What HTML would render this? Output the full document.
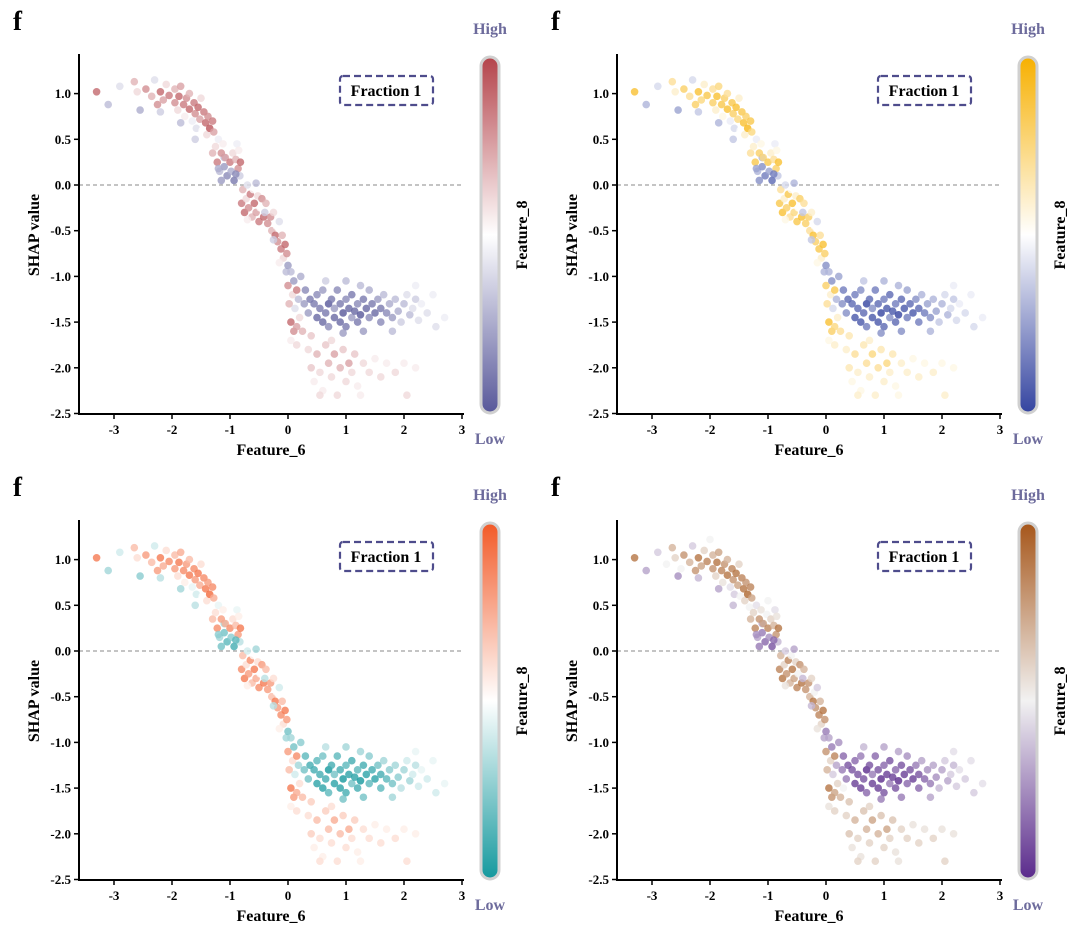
<!DOCTYPE html>
<html><head><meta charset="utf-8">
<style>
html,body{margin:0;padding:0;background:#fff;}
svg{display:block;font-family:"Liberation Serif",serif;font-weight:bold;}
</style></head>
<body>
<svg id="chart" width="1080" height="936" viewBox="0 0 1080 936" xmlns="http://www.w3.org/2000/svg"></svg>
<script>
// ---- data (shared by all four panels) ----
const featX = [-3.3,-3.1,-2.9,-2.75,-2.65,-2.6,-2.5,-2.45,-2.35,-2.3,-2.25,-2.2,-2.15,-2.1,-2.05,-2.0,-1.95,-1.95,-1.9,-1.88,-1.85,-1.8,-1.78,-1.75,-1.7,-1.7,-1.65,-1.62,-1.6,-1.58,-1.55,-1.52,-1.5,-1.48,-1.45,-1.42,-1.4,-1.38,-1.35,-1.32,-1.3,-1.28,-2.2,-1.85,-1.6,-2.55,-1.1,
-1.3,-1.25,-1.22,-1.2,-1.18,-1.15,-1.12,-1.1,-1.08,-1.05,-1.02,-1.0,-0.98,-0.95,-0.93,-0.9,-0.88,-0.86,-0.85,-0.83,-0.82,-1.15,-1.0,-0.9,-1.2,
-0.8,-0.78,-0.75,-0.72,-0.7,-0.68,-0.65,-0.62,-0.6,-0.58,-0.55,-0.52,-0.5,-0.48,-0.45,-0.42,-0.4,-0.38,-0.35,-0.55,-0.7,
-0.3,-0.28,-0.25,-0.22,-0.2,-0.18,-0.15,-0.12,-0.1,-0.08,-0.05,-0.03,-0.02,0.0,-0.15,-0.25,
0.0,0.02,0.05,0.05,0.08,0.1,0.1,0.12,0.15,0.15,0.18,0.2,0.22,0.25,0.28,0.3,0.3,0.35,0.38,0.4,0.05,0.15,
0.45,0.5,0.5,0.55,0.6,0.6,0.65,0.7,0.7,0.75,0.8,0.8,0.85,0.9,0.9,0.95,1.0,1.0,1.05,1.1,1.1,1.15,1.2,1.2,1.25,1.3,1.3,1.35,1.4,1.4,1.45,1.5,1.55,1.6,1.6,1.65,1.7,1.75,1.8,1.85,1.9,1.95,2.0,2.05,2.1,2.15,2.2,2.25,2.3,2.4,2.5,2.55,2.7,1.0,0.65,1.8,0.95,2.2,1.25,
0.35,0.4,0.45,0.5,0.55,0.6,0.65,0.7,0.75,0.8,0.85,0.9,0.95,1.0,1.05,1.1,1.15,1.2,1.3,1.4,1.5,1.6,1.7,1.85,2.0,2.05,2.2,0.55,1.25,0.75];
const shapY = [1.02,0.88,1.08,0.95,1.13,1.02,0.9,1.05,0.97,1.15,0.88,1.02,0.93,1.1,0.98,1.22,0.9,1.05,0.82,0.97,1.08,0.88,0.75,0.95,0.83,1.0,0.7,0.9,0.78,0.62,0.85,0.72,0.95,0.6,0.8,0.68,0.55,0.75,0.62,0.48,0.7,0.58,0.8,0.68,0.5,0.82,0.3,
0.35,0.42,0.25,0.5,0.15,0.35,0.45,0.2,0.3,0.1,0.4,0.25,0.15,0.35,0.05,0.28,0.45,0.18,0.38,0.1,0.25,0.05,0.55,0.12,0.18,
-0.2,-0.05,-0.3,-0.15,0.0,-0.25,-0.1,-0.35,-0.05,-0.2,-0.3,-0.12,-0.4,-0.25,-0.15,-0.35,-0.3,-0.2,-0.42,0.02,-0.38,
-0.35,-0.5,-0.3,-0.55,-0.45,-0.62,-0.4,-0.7,-0.55,-0.8,-0.65,-0.95,-0.75,-0.88,-0.85,-0.6,
-1.1,-1.3,-0.95,-1.5,-1.2,-1.05,-1.6,-1.35,-1.15,-1.55,-1.25,-1.45,-1.0,-1.6,-1.3,-1.15,-1.5,-1.4,-1.25,-1.65,-1.7,-1.75,
-1.3,-1.45,-1.2,-1.35,-1.5,-1.15,-1.4,-1.3,-1.55,-1.25,-1.45,-1.35,-1.15,-1.5,-1.3,-1.4,-1.25,-1.55,-1.35,-1.45,-1.2,-1.38,-1.3,-1.5,-1.42,-1.25,-1.6,-1.35,-1.45,-1.15,-1.3,-1.4,-1.25,-1.5,-1.35,-1.2,-1.4,-1.3,-1.45,-1.25,-1.38,-1.5,-1.3,-1.2,-1.42,-1.35,-1.25,-1.48,-1.3,-1.4,-1.2,-1.55,-1.45,-1.05,-1.05,-1.6,-1.62,-1.1,-1.1,
-1.8,-2.0,-2.15,-1.85,-2.05,-2.25,-1.75,-1.95,-2.1,-1.85,-2.3,-2.0,-1.8,-2.15,-1.95,-2.05,-1.85,-2.2,-1.95,-2.05,-1.9,-2.1,-1.95,-2.05,-1.95,-2.3,-2.0,-2.3,-2.3,-1.7];
const feat8 = [.9,.3,.4,.5,.7,.6,.5,.8,.7,.4,.8,.9,.75,.6,.85,.5,.8,.7,.6,.9,.75,.85,.55,.8,.9,.7,.45,.85,.8,.4,.9,.75,.6,.5,.85,.9,.6,.8,.95,.5,.85,.75,.35,.3,.35,.25,.3,
.7,.6,.85,.45,.3,.8,.55,.2,.75,.15,.5,.85,.25,.6,.1,.7,.45,.8,.55,.35,.9,.2,.5,.15,.25,
.85,.7,.9,.6,.4,.8,.85,.7,.5,.9,.75,.6,.85,.5,.8,.9,.35,.7,.8,.3,.55,
.8,.7,.6,.9,.5,.8,.4,.85,.7,.6,.9,.3,.8,.2,.55,.35,
.8,.7,.3,.9,.6,.2,.8,.4,.85,.75,.3,.6,.25,.7,.2,.15,.5,.2,.1,.65,.55,.6,
.1,.05,.15,.1,.05,.2,.1,0,.15,.1,.05,.2,.15,.05,.1,0,.15,.1,.05,.2,.1,.05,.15,.1,0,.1,.2,.05,.15,.25,.1,.05,.2,.15,.1,.3,.15,.25,.2,.3,.25,.35,.3,.4,.3,.4,.35,.4,.45,.4,.45,.4,.45,.3,.35,.3,.2,.45,.3,
.6,.65,.55,.7,.6,.55,.65,.7,.6,.75,.6,.7,.65,.6,.75,.6,.65,.55,.6,.6,.55,.6,.55,.6,.55,.6,.55,.6,.55,.6];
const xTicks = [-3,-2,-1,0,1,2,3];
const yTicks = [1.0,0.5,0.0,-0.5,-1.0,-1.5,-2.0,-2.5];
const colormaps = [
  ["#58589a","#ffffff","#b4434a"],
  ["#3444a0","#ffffff","#f7b000"],
  ["#15999e","#ffffff","#f25a28"],
  ["#5a2a8c","#f2f2f2","#a6561a"]
];
const offsets = [[0,0],[538,0],[0,466],[538,466]];

const NS="http://www.w3.org/2000/svg";
const svg=document.getElementById('chart');
function mk(tag,attrs,parent,text){const e=document.createElementNS(NS,tag);for(const k in attrs)e.setAttribute(k,attrs[k]);if(text!==undefined)e.textContent=text;(parent||svg).appendChild(e);return e;}
function hex(h){return [1,3,5].map(i=>parseInt(h.substr(i,2),16));}
function cmap(stops,t){const a=t<0.5?hex(stops[0]):hex(stops[1]);const b=t<0.5?hex(stops[1]):hex(stops[2]);const u=t<0.5?t*2:(t-0.5)*2;return 'rgb('+a.map((v,i)=>Math.round(v+(b[i]-v)*u)).join(',')+')';}

offsets.forEach((off,p)=>{
  const ox=off[0], oy=off[1], stops=colormaps[p];
  const xS=v=>ox+288+58*v, yS=v=>oy+185-91.4*v;
  const g=mk('g',{});
  
  
  const f=mk('text',{x:ox+13,y:oy+30,'font-size':27},g,'f');
  
  
  const zl=mk('line',{x1:ox+79,x2:ox+464,y1:yS(0),y2:yS(0),stroke:'#888','stroke-width':1,'stroke-dasharray':'4,3'},g);
  
  
  const pts=mk('g',{},g);
  
  
  featX.forEach((x,i)=>{
    const c=mk('circle',{cx:xS(x),cy:yS(shapY[i]),r:3.8,fill:cmap(stops,feat8[i]),'fill-opacity':0.8},pts);
    
    
  });
  const ya=mk('line',{x1:ox+79,x2:ox+79,y1:oy+54,y2:oy+415,stroke:'#000','stroke-width':2},g);
  
  
  const xa=mk('line',{x1:ox+78,x2:ox+464,y1:oy+414,y2:oy+414,stroke:'#000','stroke-width':2},g);
  
  
  xTicks.forEach(t=>{
    mk('line',{x1:xS(t),x2:xS(t),y1:oy+414,y2:oy+419,stroke:'#000','stroke-width':1.5},g);
    const l=mk('text',{x:xS(t),y:oy+434,'font-size':13,'text-anchor':'middle'},g,String(t));
    
    
  });
  yTicks.forEach(t=>{
    mk('line',{x1:ox+74,x2:ox+79,y1:yS(t),y2:yS(t),stroke:'#000','stroke-width':1.5},g);
    const l=mk('text',{x:ox+71,y:yS(t)+4.5,'font-size':13,'text-anchor':'end'},g,t.toFixed(1));
    
    
  });
  const xt=mk('text',{x:ox+271,y:oy+455,'font-size':16,'text-anchor':'middle'},g,'Feature_6');
  
  
  const yt=mk('text',{x:ox+39,y:oy+235,'font-size':16,'text-anchor':'middle',transform:'rotate(-90 '+(ox+39)+' '+(oy+235)+')'},g,'SHAP value');
  
  
  const fb=mk('rect',{x:ox+340,y:oy+76,width:93,height:29,rx:3,fill:'#fff',stroke:'#4e4c8c','stroke-width':2.2,'stroke-dasharray':'7,4'},g);
  
  
  const ft=mk('text',{x:ox+386,y:oy+96,'font-size':16,'text-anchor':'middle'},g,'Fraction 1');
  
  
  const gid='grad'+p;
  const defs=mk('defs',{},g);
  const lg=mk('linearGradient',{id:gid,x1:0,y1:1,x2:0,y2:0},defs);
  mk('stop',{offset:'0%','stop-color':stops[0]},lg);
  mk('stop',{offset:'50%','stop-color':stops[1]},lg);
  mk('stop',{offset:'100%','stop-color':stops[2]},lg);
  const cb=mk('rect',{x:ox+481,y:oy+57,width:18,height:356,rx:9,fill:'url(#'+gid+')',stroke:'#d0d0d0','stroke-width':3},g);
  
  
  const hi=mk('text',{x:ox+490,y:oy+34,'font-size':16,'text-anchor':'middle',fill:'#6d6b9c'},g,'High');
  
  
  const lo=mk('text',{x:ox+490,y:oy+444,'font-size':16,'text-anchor':'middle',fill:'#6d6b9c'},g,'Low');
  
  
  const ct=mk('text',{x:ox+527,y:oy+235,'font-size':16,'text-anchor':'middle',transform:'rotate(-90 '+(ox+527)+' '+(oy+235)+')'},g,'Feature_8');
  
  
});
</script>
</body></html>
